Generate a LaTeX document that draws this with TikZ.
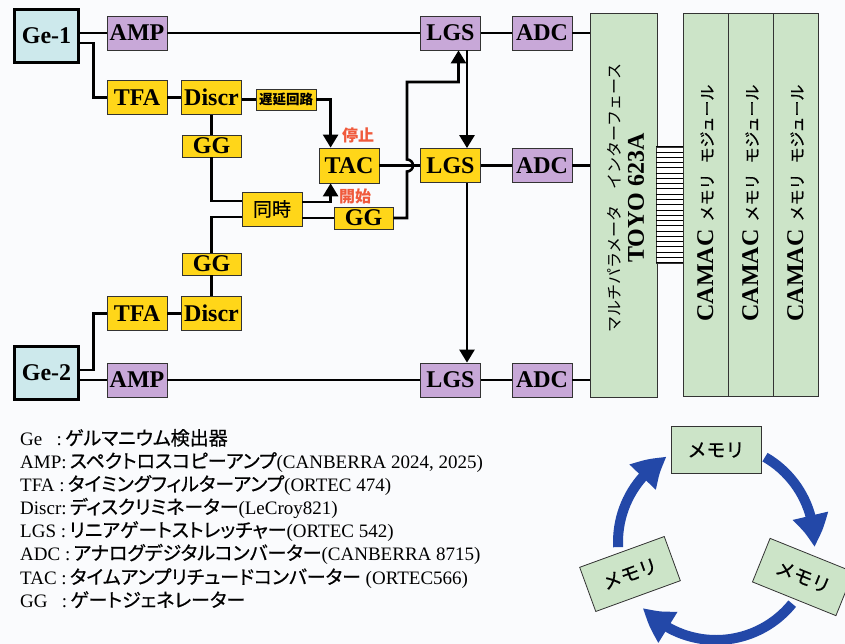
\documentclass[tikz,border=0pt]{standalone}
\usepackage{fontspec}
\setmainfont{Liberation Serif}
\newfontfamily\jp{Noto Sans CJK JP}
\newfontfamily\jpm[FakeBold=0.6]{Noto Sans CJK JP}
\newfontfamily\jpp[FakeBold=0.6,RawFeature=+palt]{Noto Sans CJK JP}
\usetikzlibrary{arrows.meta,calc,bending}
\definecolor{bgc}{HTML}{FAFBFD}
\definecolor{gecyan}{HTML}{CDE9EC}
\definecolor{purp}{HTML}{C8A8D8}
\definecolor{yel}{HTML}{FFD619}
\definecolor{grn}{HTML}{CCE4C8}
\definecolor{cycblue}{HTML}{2348A8}
\definecolor{redlab}{HTML}{F05A3C}
\newcommand{\lj}[1]{{\jpp\fontsize{19}{23}\selectfont #1}}
\begin{document}
\begin{tikzpicture}[x=1pt,y=-1pt,
  box/.style={draw=black!80, line width=0.8pt, inner sep=0pt, font=\bfseries\fontsize{24}{24}\selectfont},
  pbox/.style={box, fill=purp, minimum width=60pt, minimum height=34pt},
  ybox/.style={box, fill=yel, minimum width=60pt, minimum height=34pt},
  gbox/.style={box, fill=yel, minimum width=59pt, minimum height=22pt},
  gebox/.style={draw=black, line width=3pt, fill=gecyan, inner sep=0pt, minimum width=64pt, minimum height=53pt, font=\bfseries\fontsize{24}{24}\selectfont},
  conn/.style={draw=black, line width=2.6pt},
  arr/.style={conn, -{Triangle[length=13pt,width=15pt]}},
  jpbox/.style={box, fill=yel, font=\jpm\fontsize{19}{19}\selectfont},
  redtxt/.style={text=redlab, font=\jp\bfseries\fontsize{16}{16}\selectfont, inner sep=0pt},
  mem/.style={draw=black!80, line width=0.8pt, fill=grn, minimum width=90pt, minimum height=47pt, inner sep=0pt, font=\jpm\fontsize{19}{19}\selectfont},
  cyc/.style={draw=cycblue, line width=10pt, -{Triangle[length=32pt,width=34pt,bend]}},
  leg/.style={anchor=base west, inner sep=0pt, font=\fontsize{19}{23}\selectfont}
]
\fill[bgc] (0,0) rectangle (845,644);
\useasboundingbox (0,0) rectangle (845,644);

% detectors
\node[gebox] (ge1) at (46.5,36) {Ge-1};
\node[gebox] (ge2) at (46.5,372.5) {Ge-2};
% amplifiers
\node[pbox] (amp1) at (137,33) {AMP};
\node[pbox] (amp2) at (137,380) {AMP};
\node[ybox] (tfa1) at (137,97.5) {TFA};
\node[ybox] (tfa2) at (137,313.5) {TFA};
\node[ybox] (discr1) at (211.5,97.5) {Discr};
\node[ybox] (discr2) at (211.5,313.5) {Discr};
\node[gbox] (gg1) at (211.5,146) {GG};
\node[gbox] (gg3) at (211.5,264) {GG};
\node[box, fill=yel, minimum width=60pt, minimum height=21pt, font=\jp\bfseries\fontsize{13.5}{13.5}\selectfont] (delay) at (286,99.5) {遅延回路};
\node[jpbox, minimum width=60pt, minimum height=34pt] (sync) at (272,209) {同時};
\node[ybox, minimum height=35pt] (tac) at (349,165.5) {TAC};
\node[gbox] (gg2) at (363.5,218) {GG};
\node[redtxt] (stop) at (358,135) {停止};
\node[redtxt] (start) at (355,196) {開始};
% LGS / ADC
\node[pbox] (lgs1) at (450.5,33) {LGS};
\node[ybox] (lgs2) at (450.5,165.5) {LGS};
\node[pbox] (lgs3) at (450.5,380) {LGS};
\node[pbox] (adc1) at (542,33) {ADC};
\node[pbox] (adc2) at (542,165.5) {ADC};
\node[pbox] (adc3) at (542,380) {ADC};
% interface
\node[draw=black!80, line width=0.8pt, fill=grn, minimum width=67pt, minimum height=384pt, inner sep=0pt] (if) at (623.5,205) {};
\node[rotate=90, inner sep=0pt, font=\jp\fontsize{16}{16}\selectfont] (ifjp) at (614,198) {マルチパラメータ　インターフェース};
\node[rotate=90, inner sep=0pt, font=\bfseries\fontsize{24}{24}\selectfont] (iftoyo) at (636,198) {TOYO 623A};
% ribbon
\node[draw=black!80, line width=0.6pt, fill=white, minimum width=27pt, minimum height=116pt, inner sep=0pt] (rib) at (670,205) {};
\foreach \i in {0,...,22} {
  \draw[line width=0.9pt] ($(rib.north west)+(0,{\i*116/22})$) -- ($(rib.north east)+(0,{\i*116/22})$);
}
% CAMAC
\foreach \n/\cx in {1/705.5,2/750.5,3/795.5} {
  \node[draw=black!80, line width=0.8pt, fill=grn, minimum width=45pt, minimum height=383pt, inner sep=0pt] (camac\n) at (\cx,204.5) {};
  \node[rotate=90, inner sep=0pt] (camactxt\n) at (\cx,203) {{\bfseries\fontsize{24}{24}\selectfont CAMAC}\hspace{8pt}{\jpm\fontsize{16}{16}\selectfont メモリ\hspace{10pt}モジュール}};
}

% connectors
\draw[conn] (ge1.east |- amp1) -- (amp1);
\draw[conn] (amp1) -- (lgs1);
\draw[conn] (lgs1) -- (adc1);
\draw[conn] (adc1) -- (adc1 -| if.west);
\draw[conn] ($(ge1.east)+(0,7)$) -| ($(tfa1.west)+(-13,0)$) -- (tfa1.west);
\draw[conn] (tfa1) -- (discr1);
\draw[conn] (discr1.east |- delay) -- (delay);
\draw[arr] (delay.east) -| ($(tac.north west)+(12,0)$);
\draw[conn] (discr1) -- (gg1);
\draw[conn] (gg1.south) |- ($(sync.west)+(0,-8)$);
\draw[arr] ($(sync.east)+(0,-7)$) -| ($(tac.south west)+(12,0)$);
\draw[conn] (sync.east |- gg2) -- (gg2);
\draw[conn] ($(sync.west)+(0,8)$) -| (gg3.north);
\draw[conn] (gg3) -- (discr2);
\draw[conn] (tfa2) -- (discr2);
\draw[conn] ($(ge2.east)+(0,-2.5)$) -| ($(tfa2.west)+(-13,0)$) -- (tfa2.west);
\draw[conn] (ge2.east |- amp2) -- (amp2);
\draw[conn] (amp2) -- (lgs3);
\draw[conn] (lgs3) -- (adc3);
\draw[conn] (adc3) -- (adc3 -| if.west);
\draw[conn] (tac) -- (lgs2);
\draw[conn] (lgs2) -- (adc2);
\draw[conn] (adc2) -- (adc2 -| if.west);
\draw[arr] ($(lgs1.south)+(16.5,0)$) -- ($(lgs2.north)+(16.5,0)$);
\draw[arr] ($(lgs2.south)+(16.5,0)$) -- ($(lgs3.north)+(16.5,0)$);
\coordinate (hop) at (407,165.5);
\draw[arr] (gg2.east) -| ($(hop)+(0,6)$) arc[start angle=90, end angle=-90, radius=6] -- ($(hop)+(0,-83.5)$) -| ($(lgs1.south)+(8,0)$);

% legend
\node[leg] (leg1) at (20,445) {Ge\ \ \ :\,\lj{ゲルマニウム検出器}};
\node[leg] (leg2) at (20,468) {AMP:\,\lj{スペクトロスコピーアンプ}(CANBERRA 2024, 2025)};
\node[leg] (leg3) at (20,491) {TFA :\,\lj{タイミングフィルターアンプ}(ORTEC 474)};
\node[leg] (leg4) at (20,514) {Discr:\,\lj{ディスクリミネーター}(LeCroy821)};
\node[leg] (leg5) at (20,537) {LGS :\,\lj{リニアゲートストレッチャー}(ORTEC 542)};
\node[leg] (leg6) at (20,560) {ADC :\,\lj{アナログデジタルコンバーター}(CANBERRA 8715)};
\node[leg] (leg7) at (20,584) {TAC :\,\lj{タイムアンプリチュードコンバーター} (ORTEC566)};
\node[leg] (leg8) at (20,607) {GG\ \ \ :\,\lj{ゲートジェネレーター}};

% memory cycle
\node[mem] (mem1) at (716,450) {メモリ};
\node[mem, rotate=-22] (mem2) at (803,577) {メモリ};
\node[mem, rotate=20] (mem3) at (630,574) {メモリ};
\coordinate (cc) at (716,542);
\draw[cyc] (cc) ++(-60:98) arc[start angle=-60, end angle=3, radius=98];
\draw[cyc] (cc) ++(39:98) arc[start angle=39, end angle=138, radius=98];
\draw[cyc] (cc) ++(-183:98) arc[start angle=-183, end angle=-120, radius=98];
\end{tikzpicture}
\end{document}
